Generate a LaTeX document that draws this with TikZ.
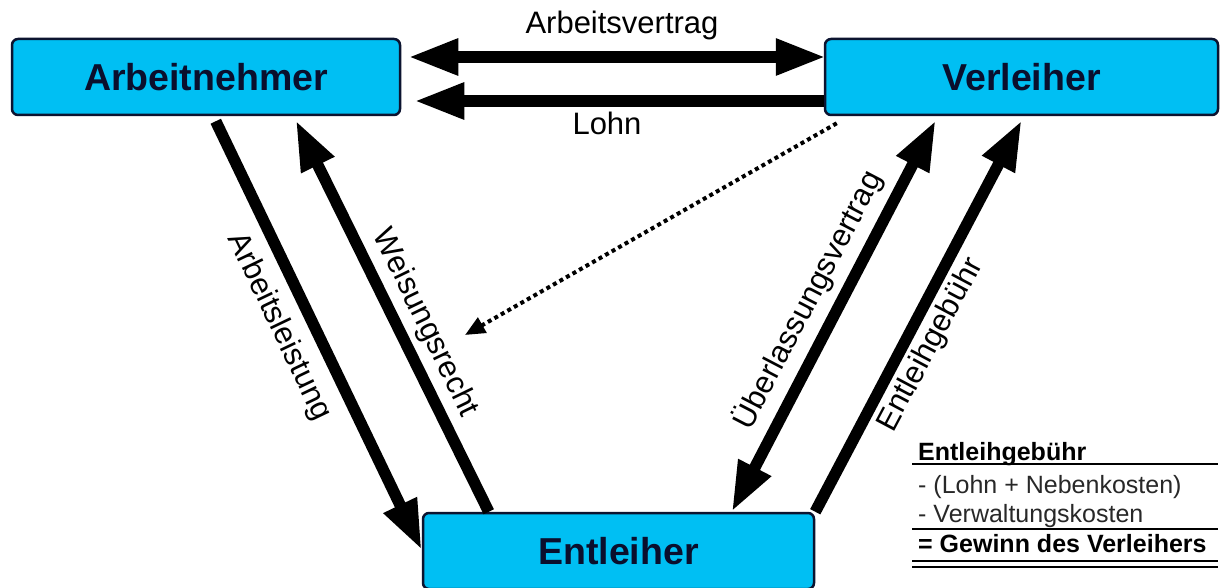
\documentclass[tikz,border=0pt]{standalone}
\usepackage{fontspec}
\setmainfont{Liberation Sans}
\usetikzlibrary{arrows.meta}
\definecolor{boxfill}{RGB}{0,191,243}
\definecolor{boxline}{RGB}{12,20,48}
\definecolor{boxtext}{RGB}{10,15,45}
\definecolor{tabgray}{RGB}{40,40,40}
\tikzset{
  party/.style={draw=boxline, line width=2.5pt, fill=boxfill, rounded corners=6pt,
    minimum height=76pt, inner sep=0pt, text=boxtext,
    font=\fontsize{37.5}{42}\selectfont\bfseries},
  flow/.style={line width=11.5pt, -{Triangle[length=50pt,width=34pt]}},
  flow2/.style={line width=11.5pt, {Triangle[length=50pt,width=34pt]}-{Triangle[length=50pt,width=34pt]}},
  lbl/.style={inner sep=0pt, font=\fontsize{31}{34}\selectfont},
  tab/.style={inner sep=0pt, anchor=base west, font=\fontsize{25}{28}\selectfont},
  rulel/.style={line width=2pt},
}
\begin{document}
\begin{tikzpicture}[x=1pt,y=-1pt]
\useasboundingbox[fill=white] (0,0) rectangle (1221,588);
% parties
\node[party, minimum width=388pt] (an) at (206,77) {\raisebox{-6pt}{Arbeitnehmer}};
\node[party, minimum width=393pt] (vl) at (1021.5,77) {\raisebox{-6pt}{Verleiher}};
\node[party, minimum width=391pt] (el) at (618.5,551) {\raisebox{-6pt}{Entleiher}};
% top connectors
\draw[flow2] ([shift={(7pt,20pt)}]an.east) -- ([shift={(2pt,20pt)}]vl.west);
\draw[flow] ([yshift=-24pt]vl.west) -- ([shift={(13pt,-24pt)}]an.east);
\node[lbl] (lav) at (622,25) {Arbeitsvertrag};
\node[lbl] (llohn) at (607,123) {Lohn};
% left connectors
\draw[flow] ([shift={(205pt,-5pt)}]an.south west) -- ([yshift=1pt]el.west);
\draw[flow] ([xshift=67pt]el.north west) -- ([shift={(285pt,-4pt)}]an.south west);
\node[lbl, rotate=-64.4] (lal) at (279,327) {Arbeitsleistung};
\node[lbl, rotate=-64] (lwr) at (425,323) {Weisungsrecht};
% right connectors
\draw[flow2] ([shift={(112pt,-4pt)}]vl.south west) -- ([xshift=310pt]el.north west);
\draw[flow] (el.north east) -- ([shift={(198pt,-4pt)}]vl.south west);
\node[lbl, rotate=62.5] (luv) at (808,300) {Überlassungsvertrag};
\node[lbl, rotate=62] (leg) at (931,345) {Entleihgebühr};
% dotted
\coordinate (dt) at (465,335);
\draw[line width=4pt, dash pattern=on 4pt off 3.5pt, -{Triangle[length=20pt,width=17pt]}]
  ([shift={(13pt,-7pt)}]vl.south west) -- (dt);
% table
\node[tab, font=\fontsize{25}{28}\selectfont\bfseries] (t1) at (918,460) {Entleihgebühr};
\draw[rulel] (912,463.5) -- (1218,463.5);
\node[tab, text=tabgray] (t2) at (918,493) {- (Lohn + Nebenkosten)};
\node[tab, text=tabgray] (t3) at (918,522) {- Verwaltungskosten};
\draw[rulel] (912,528.5) -- (1218,528.5);
\node[tab, font=\fontsize{25}{28}\selectfont\bfseries] (t4) at (918,552) {= Gewinn des Verleihers};
\draw[rulel] (912,561) -- (1218,561);
\draw[rulel] (912,567) -- (1218,567);
\end{tikzpicture}
\end{document}
